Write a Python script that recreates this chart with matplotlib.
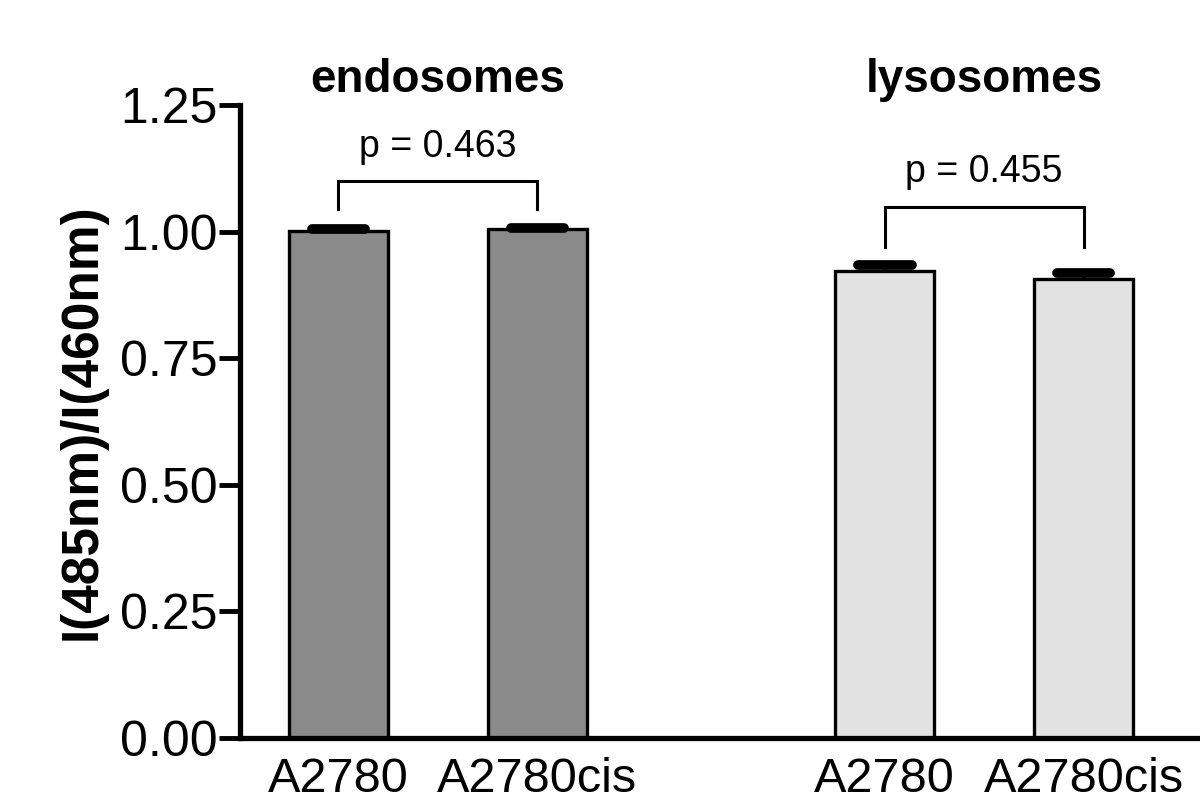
import matplotlib.pyplot as plt

# data
groups = ['endosomes', 'lysosomes']
cells = ['A2780', 'A2780cis', 'A2780', 'A2780cis']
positions = [0, 1, 2.745, 3.745]
means = [1.002, 1.005, 0.922, 0.906]
sems = [0.003, 0.003, 0.012, 0.012]
p_values = ['p = 0.463', 'p = 0.455']
yticks = [0.00, 0.25, 0.50, 0.75, 1.00, 1.25]

plt.rcParams['font.family'] = ['Liberation Sans', 'DejaVu Sans']
fig = plt.figure(figsize=(12, 8.06), dpi=100)
ax = fig.add_axes([0.2, 0.0844, 0.8, 0.7853])

colors = ['#8a8a8a', '#8a8a8a', '#e2e2e2', '#e2e2e2']
ax.bar(positions, means, width=0.5, color=colors, edgecolor='black',
       linewidth=2.4, zorder=2)

# one-sided (upward) SEM bars with rounded caps
tops = [m + s for m, s in zip(means, sems)]
ax.vlines(positions, means, tops, color='black', linewidth=3, zorder=3)
caps = ax.hlines(tops, [p - 0.135 for p in positions],
                 [p + 0.135 for p in positions], color='black',
                 linewidth=7, zorder=3)
caps.set_capstyle('round')

ax.set_xlim(-0.495, 4.33)
ax.set_ylim(0, 1.25)
ax.set_yticks(yticks)
ax.set_yticklabels(['%.2f' % t for t in yticks], fontsize=36)
ax.set_xticks(positions)
ax.set_xticklabels(cells, fontsize=35)
ax.tick_params(axis='x', length=0, pad=14)
ax.tick_params(axis='y', length=15, width=3.5, pad=1)

for s in ['top', 'right']:
    ax.spines[s].set_visible(False)
for s in ['left', 'bottom']:
    ax.spines[s].set_linewidth(3.8)

ax.set_ylabel('I(485nm)/I(460nm)', fontsize=37, fontweight='bold',
              labelpad=10)

# group titles
ax.text((positions[0] + positions[1]) / 2, 1.30, groups[0], fontsize=33,
        fontweight='bold', ha='center', va='center')
ax.text((positions[2] + positions[3]) / 2, 1.30, groups[1], fontsize=33,
        fontweight='bold', ha='center', va='center')

# significance brackets
brackets = [(positions[0], positions[1], 1.100, 1.045),
            (positions[2], positions[3], 1.048, 0.970)]
text_y = [1.167, 1.117]
for (x1, x2, top, bot), p, ty in zip(brackets, p_values, text_y):
    ax.plot([x1, x1, x2, x2], [bot, top, top, bot], color='black',
            linewidth=2.2, clip_on=False, solid_joinstyle='miter')
    ax.text((x1 + x2) / 2, ty, p, fontsize=27, ha='center', va='center')

fig.savefig('out.png', dpi=100)
